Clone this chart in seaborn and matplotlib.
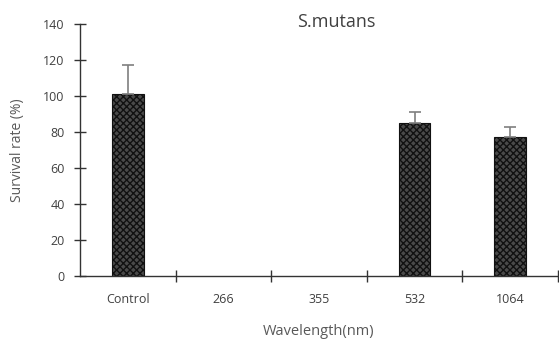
import matplotlib
matplotlib.use("Agg")
import matplotlib.pyplot as plt
import seaborn as sns
import pandas as pd
import numpy as np

categories = ["Control", "266", "355", "532", "1064"]
survival = [101, 0, 0, 85, 77.5]
err_upper = [16.5, 0, 0, 6, 5.5]
yticks = [0, 20, 40, 60, 80, 100, 120, 140]

sns.set_theme(style="white")
plt.rcParams['font.family'] = ['Open Sans', 'DejaVu Sans']

df = pd.DataFrame({"Wavelength": categories, "Survival": survival})

fig = plt.figure(figsize=(5.59, 3.44), dpi=100)
ax = fig.add_axes([80/559, (344-276)/344, 478/559, 252/344])

sns.barplot(data=df, x="Wavelength", y="Survival", order=categories, ax=ax,
            width=0.33, color="#4a4a4a", errorbar=None, saturation=1)

for p, v in zip(ax.patches, survival):
    p.set_hatch("xxxxx")
    p.set_edgecolor("#111111")
    p.set_linewidth(0.8)
    try:
        p.set_hatchcolor("#d0d0d0")
    except Exception:
        pass
    if v == 0:
        p.set_visible(False)

xs = np.arange(len(categories))
for x, v, e in zip(xs, survival, err_upper):
    if e > 0:
        ax.errorbar(x, v, yerr=[[0], [e]], fmt="none", ecolor="#7f7f7f",
                    elinewidth=1.2, capsize=4.5, capthick=1.2, zorder=1)

ax.set_xlim(-0.5, 4.5)
ax.set_ylim(0, 140)
ax.set_yticks(yticks)
ax.set_xticks(xs)
ax.set_xticklabels(categories)
ax.set_xticks(np.arange(0.5, 4.6, 1), minor=True)

for s in ["top", "right"]:
    ax.spines[s].set_visible(False)
for s in ["left", "bottom"]:
    ax.spines[s].set_color("#333333")
    ax.spines[s].set_linewidth(1.0)

ax.tick_params(axis="y", which="major", direction="inout", length=8, width=1,
               color="#333333", labelsize=9, labelcolor="#404040", pad=7,
               left=True)
ax.tick_params(axis="x", which="major", length=0, labelsize=9,
               labelcolor="#404040", pad=12, bottom=False)
ax.tick_params(axis="x", which="minor", direction="inout", length=9, width=1,
               color="#333333", bottom=True)

ax.set_ylabel("Survival rate (%)", fontsize=10, color="#595959")
ax.yaxis.set_label_coords(-0.115, 0.5)
ax.set_xlabel("Wavelength(nm)", fontsize=10.5, color="#595959")
ax.xaxis.set_label_coords(0.5, -0.19)
ax.set_title("S.mutans", fontsize=13, color="#404040", x=0.536, pad=-2)
ax.grid(False)

fig.savefig("out.png", dpi=100)
